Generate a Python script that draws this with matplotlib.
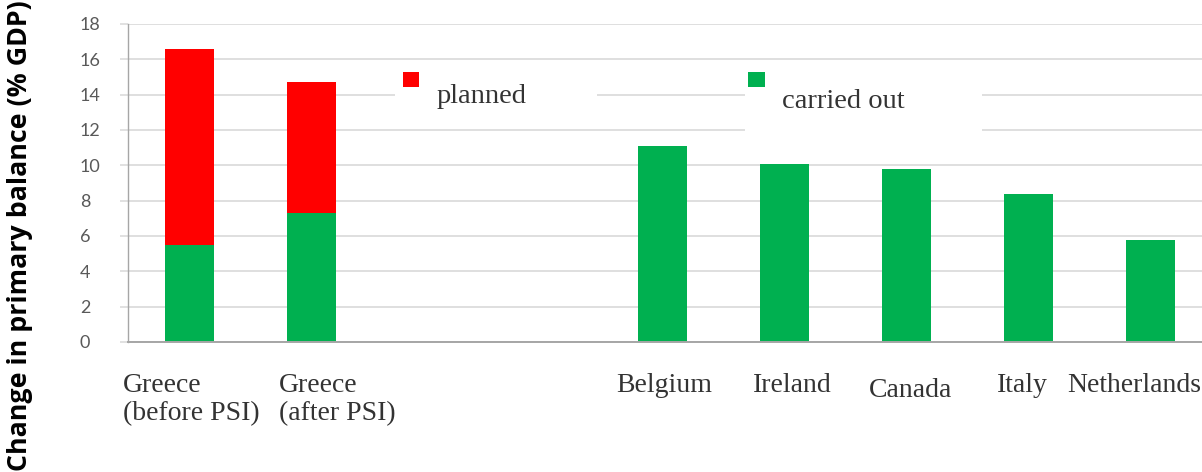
import matplotlib
matplotlib.use("Agg")
import matplotlib.pyplot as plt
from matplotlib.patches import Rectangle
from matplotlib.transforms import ScaledTranslation

# ---- data -------------------------------------------------------------
categories = ["Greece\n(before PSI)", "Greece\n(after PSI)", "Belgium",
              "Ireland", "Canada", "Italy", "Netherlands"]
carried_out = [5.5, 7.3, 11.1, 10.1, 9.8, 8.4, 5.8]
planned = [11.1, 7.4, 0, 0, 0, 0, 0]
y_ticks = [0, 2, 4, 6, 8, 10, 12, 14, 16, 18]
series_names = ["planned", "carried out"]
y_title = "Change in primary balance (% GDP)"

# ---- layout / style ---------------------------------------------------
x_pos = [0, 1, 3.88, 4.88, 5.88, 6.88, 7.88]
bar_width = 0.40
# per-label nudges in pixels (right, down)
label_shift_px = [(1.5, 0), (26, 0), (1, 0), (7.5, 0), (4, 5), (-6.5, 0), (-17, 0)]

RED = "#FF0000"
GREEN = "#00B050"
GRID = "#D9D9D9"
AXIS = "#A6A6A6"
SERIF = "Liberation Serif"

W, H = 1202, 472
fig = plt.figure(figsize=(W / 100, H / 100), dpi=100)
fig.patch.set_facecolor("white")


def fx(x):
    return x / W


def fy(y):
    return 1 - y / H


ax = fig.add_axes([fx(128), fy(342), fx(1202) - fx(128), fy(24) - fy(342)])
ax.bar(x_pos, carried_out, width=bar_width, color=GREEN, zorder=2)
ax.bar(x_pos, planned, width=bar_width, bottom=carried_out, color=RED, zorder=2)

ax.set_xlim(-0.504, 8.299)
ax.set_ylim(0, 18)
ax.set_yticks(y_ticks)
ax.set_axisbelow(True)
ax.yaxis.grid(True, color=GRID, linewidth=1.2)
ax.xaxis.grid(False)

for side in ("top", "right"):
    ax.spines[side].set_visible(False)
ax.spines["left"].set_color(AXIS)
ax.spines["left"].set_linewidth(1.0)
ax.spines["bottom"].set_color(AXIS)
ax.spines["bottom"].set_linewidth(1.4)

ax.tick_params(axis="y", length=5.8, width=1.1, color=GRID, pad=28.8,
               labelsize=13, labelcolor="#595959", labelfontfamily="Lato")
for t in ax.get_yticklabels():
    t.set_horizontalalignment("left")

ax.set_xticks(x_pos, categories)
ax.tick_params(axis="x", length=0, pad=22, labelsize=20, labelcolor="#333333",
               labelfontfamily=SERIF)
for t, (dx, dy) in zip(ax.get_xticklabels(), label_shift_px):
    t.set_multialignment("left")
    t.set_transform(t.get_transform() + ScaledTranslation(dx / 100, -dy / 100, fig.dpi_scale_trans))


def px_rect(x0, y0, x1, y1, color, z):
    r = Rectangle((fx(x0), fy(y1)), fx(x1) - fx(x0), fy(y0) - fy(y1),
                  transform=fig.transFigure, facecolor=color, edgecolor="none", zorder=z)
    fig.patches.append(r)


# legend: white panels behind the entries, then keys and labels
px_rect(395, 62, 597, 122, "white", 1)
px_rect(745, 62, 982, 152, "white", 1)
px_rect(403, 72, 419, 87, RED, 2)
px_rect(748, 72, 765, 87, GREEN, 2)
fig.text(fx(437), fy(103), series_names[0], ha="left", va="baseline",
         fontsize=20.5, family=SERIF, color="#333333")
fig.text(fx(782), fy(108), series_names[1], ha="left", va="baseline",
         fontsize=20.5, family=SERIF, color="#333333")

fig.text(fx(20), fy(236), y_title, rotation=90, ha="center", va="center",
         fontsize=19.3, fontweight="bold", family="Open Sans", color="black")

fig.savefig("out.png", dpi=100, facecolor="white")
